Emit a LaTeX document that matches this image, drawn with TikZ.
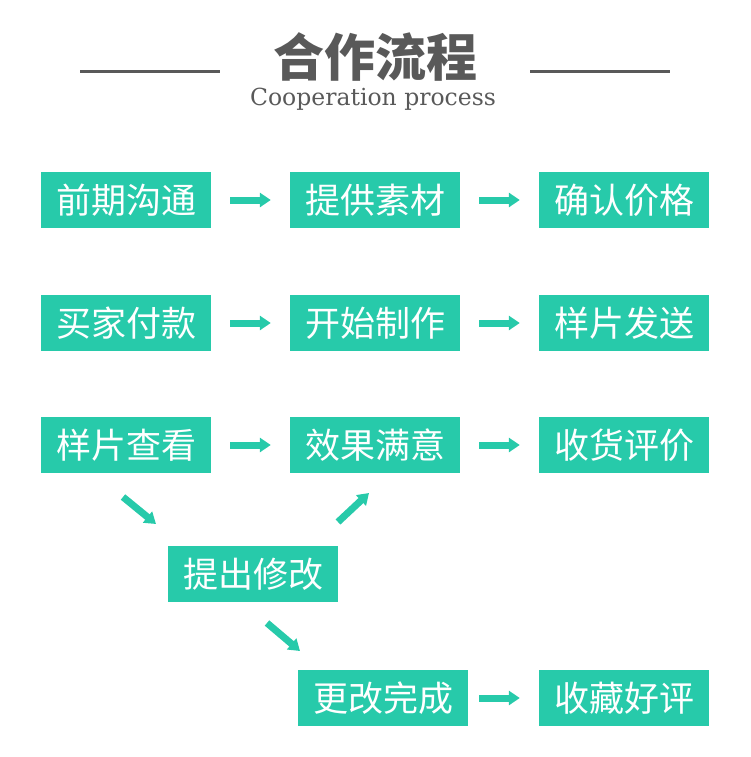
\documentclass[tikz,border=0pt]{standalone}
\usepackage{fontspec}
\setmainfont{DejaVu Serif}
\newfontfamily\cjk{Noto Sans CJK SC}
\usetikzlibrary{arrows.meta}
\definecolor{stepgreen}{HTML}{27CAAA}
\definecolor{titlegrey}{HTML}{595959}
\tikzset{
  stepbox/.style={fill=stepgreen,text=white,inner sep=0pt,
    minimum width=170pt,minimum height=56pt,
    font=\cjk\fontsize{35}{35}\selectfont},
  steparrow/.style={draw=stepgreen,line width=7pt,
    -{Triangle[width=14pt,length=11pt]}},
  flatarrow/.style={steparrow,shorten <=19pt,shorten >=19pt}
}
\begin{document}
\begin{tikzpicture}[x=1pt,y=-1pt]

  \useasboundingbox (0,0) rectangle (750,757);

  % title
  \node[text=titlegrey,font=\cjk\bfseries\fontsize{51}{51}\selectfont] (Title) at (375,57) {合作流程};
  \node[text=titlegrey,font=\fontsize{23.5}{23.5}\selectfont,anchor=base] (SubTitle) at (373,106) {Cooperation process};
  \coordinate (LineA1) at (80,72);
  \coordinate (LineA2) at (220,72);
  \coordinate (LineB1) at (530,72);
  \coordinate (LineB2) at (670,72);
  \draw[titlegrey,line width=3pt] (LineA1) -- (LineA2);
  \draw[titlegrey,line width=3pt] (LineB1) -- (LineB2);

  % 1
  \node[stepbox] (StepA1) at (126,200) {前期沟通};
  \node[stepbox] (StepB1) at (375,200) {提供素材};
  \node[stepbox] (StepC1) at (624,200) {确认价格};

  \draw[flatarrow] (StepA1) -- (StepB1);
  \draw[flatarrow] (StepB1) -- (StepC1);

  % 2
  \node[stepbox] (StepA2) at (126,323) {买家付款};
  \node[stepbox] (StepB2) at (375,323) {开始制作};
  \node[stepbox] (StepC2) at (624,323) {样片发送};

  \draw[flatarrow] (StepA2) -- (StepB2);
  \draw[flatarrow] (StepB2) -- (StepC2);

  % 3
  \node[stepbox] (StepA3) at (126,445) {样片查看};
  \node[stepbox] (StepB3) at (375,445) {效果满意};
  \node[stepbox] (StepC3) at (624,445) {收货评价};

  \draw[flatarrow] (StepA3) -- (StepB3);
  \draw[flatarrow] (StepB3) -- (StepC3);

  % revision
  \node[stepbox] (StepFix) at (253,574) {提出修改};
  \node[stepbox] (StepDone) at (383,698) {更改完成};
  \node[stepbox] (StepEnd) at (624,698) {收藏好评};

  \draw[flatarrow,shorten <=11pt] (StepDone) -- (StepEnd);

  \coordinate (DiagA1) at (123,497);
  \coordinate (DiagA2) at (156,524);
  \coordinate (DiagB1) at (338,522);
  \coordinate (DiagB2) at (369,493);
  \coordinate (DiagC1) at (267,623);
  \coordinate (DiagC2) at (300,651);
  \draw[steparrow] (DiagA1) -- (DiagA2);
  \draw[steparrow] (DiagB1) -- (DiagB2);
  \draw[steparrow] (DiagC1) -- (DiagC2);

\end{tikzpicture}
\end{document}
